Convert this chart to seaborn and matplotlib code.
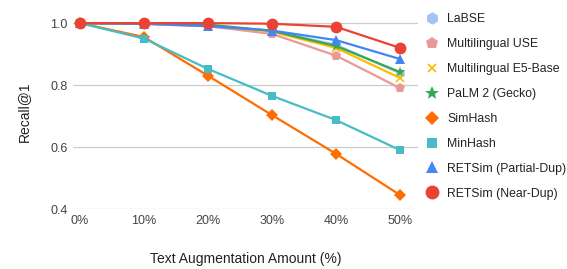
import pandas as pd
import numpy as np
import matplotlib.pyplot as plt
import seaborn as sns
from matplotlib.lines import Line2D

# values
amounts = [0, 10, 20, 30, 40, 50]
labse = [1.0, 0.998, 0.993, 0.975, 0.93, 0.838]
multi_use = [1.0, 0.997, 0.99, 0.965, 0.895, 0.79]
multi_e5 = [1.0, 0.998, 0.993, 0.972, 0.92, 0.823]
palm2 = [1.0, 0.998, 0.995, 0.975, 0.926, 0.842]
simhash = [1.0, 0.955, 0.83, 0.703, 0.578, 0.445]
minhash = [1.0, 0.95, 0.852, 0.765, 0.687, 0.59]
retsim_partial = [1.0, 0.998, 0.99, 0.976, 0.945, 0.884]
retsim_near = [1.0, 1.0, 1.0, 0.998, 0.988, 0.92]

series = {
    "LaBSE": labse,
    "Multilingual USE": multi_use,
    "Multilingual E5-Base": multi_e5,
    "PaLM 2 (Gecko)": palm2,
    "SimHash": simhash,
    "MinHash": minhash,
    "RETSim (Partial-Dup)": retsim_partial,
    "RETSim (Near-Dup)": retsim_near,
}
colors = ["#a4c2f4", "#ea9999", "#fbbc04", "#34a853",
          "#ff6d01", "#46bdc6", "#4285f4", "#ea4335"]
markers = ["h", "p", "x", "*", "D", "s", "^", "o"]
msizes = [7, 7, 6, 8, 6, 6, 7, 8.5]
legend_sizes = [9, 9, 6, 10, 7, 7, 8.5, 10]

df = pd.DataFrame([
    {"amount": a, "recall": v, "model": name}
    for name, vals in series.items() for a, v in zip(amounts, vals)
])

sns.set_style("white")
plt.rcParams["font.family"] = ["Liberation Sans", "DejaVu Sans"]

fig = plt.figure(figsize=(5.67, 2.69), dpi=100)
ax = fig.add_axes([73 / 567, 60 / 269, 345 / 567, 195.5 / 269])

for (name, grp), c, m, s in zip(df.groupby("model", sort=False), colors, markers, msizes):
    sns.lineplot(data=grp, x="amount", y="recall", ax=ax, color=c, marker=m,
                 markersize=s, markeredgecolor=c, markeredgewidth=1.2 if m == "x" else 0,
                 linewidth=1.6, legend=False)

ax.set_xlim(-1.1, 52.8)
ax.set_ylim(0.4, 1.031)
ax.set_xticks(amounts)
ax.set_xticklabels([f"{a}%" for a in amounts])
ax.set_yticks([0.4, 0.6, 0.8, 1.0])
ax.set_yticklabels(["0.4", "0.6", "0.8", "1.0"])
ax.yaxis.grid(True, color="#cccccc", linewidth=0.9)
ax.xaxis.grid(False)
for sp in ax.spines.values():
    sp.set_visible(False)
ax.tick_params(axis="both", length=0, labelsize=9, colors="#444444", pad=4)
ax.set_xlabel("Text Augmentation Amount (%)", fontsize=10, color="#222222", labelpad=18)
ax.set_ylabel("Recall@1", fontsize=10, color="#222222", labelpad=14)

# legend shows markers only
handles = [Line2D([], [], linestyle="none", marker=m, color=c, markeredgecolor=c,
                  markeredgewidth=1.3 if m == "x" else 0, markersize=s)
           for c, m, s in zip(colors, markers, legend_sizes)]
fig.legend(handles, list(series.keys()), loc="upper left",
           bbox_to_anchor=(425 / 567, 1 - 13 / 269),
           frameon=False, fontsize=8.8, handlelength=1.2, handletextpad=0.6,
           labelspacing=1.06, borderpad=0, borderaxespad=0, labelcolor="#222222")

fig.savefig("out.png", dpi=100)
